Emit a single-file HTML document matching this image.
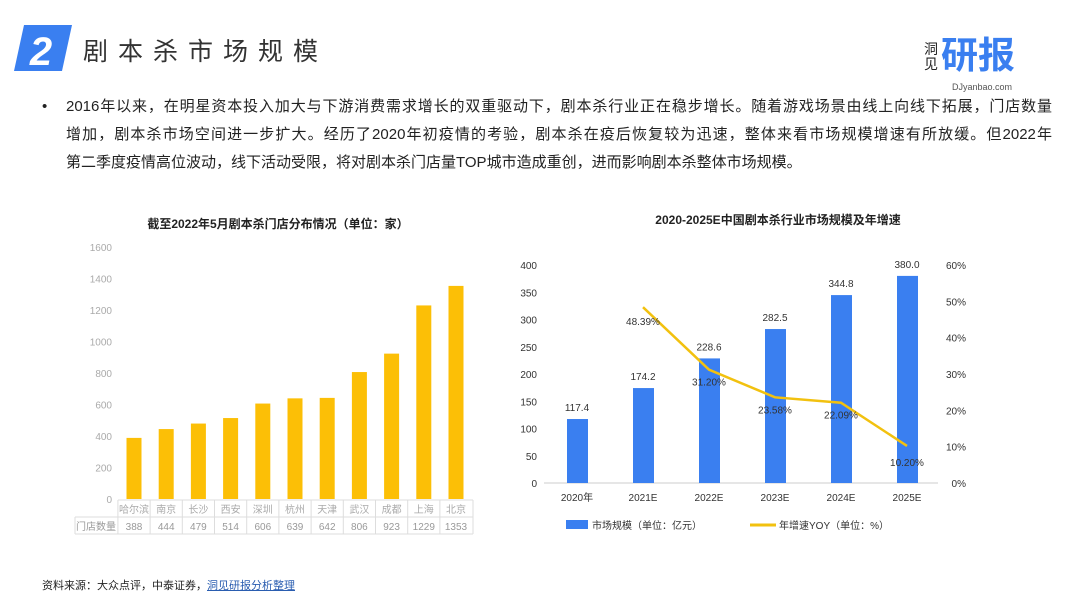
<!DOCTYPE html>
<html><head><meta charset="utf-8">
<style>
body{margin:0;width:1080px;height:608px;background:#fff;font-family:"Liberation Sans","Noto Sans CJK SC",sans-serif;position:relative;overflow:hidden;color:#222}
.abs{position:absolute}
.ln{text-align:justify;text-align-last:justify;white-space:nowrap;height:28px}
</style></head><body>
<div class="abs" style="left:14px;top:25px;width:52px;height:45px;">
<svg width="60" height="46"><polygon points="10,0 58,0 48,46 0,46" fill="#3a7ff0"/><text x="27" y="40" font-size="40" font-weight="bold" font-style="italic" fill="#fff" text-anchor="middle" font-family="Liberation Sans,sans-serif">2</text></svg></div>
<div class="abs" style="left:83px;top:32px;font-size:25px;letter-spacing:10px;color:#333">剧本杀市场规模</div>
<div class="abs" style="left:924px;top:36px;width:110px;height:56px">
<div class="abs" style="left:0;top:6px;font-size:14px;line-height:15px;width:14px;color:#222">洞见</div>
<div class="abs" style="left:17px;top:-2px;font-size:37px;font-weight:bold;color:#3a7ff0;line-height:44px">研报</div>
<div class="abs" style="left:28px;top:46px;font-size:9px;color:#555">DJyanbao.com</div></div>
<div class="abs" style="left:42px;top:93px;width:1010px;font-size:15px;line-height:28px;color:#222">
<span style="position:absolute;left:0">•</span>
<div style="margin-left:24px;width:986px">
<div class="ln">2016年以来，在明星资本投入加大与下游消费需求增长的双重驱动下，剧本杀行业正在稳步增长。随着游戏场景由线上向线下拓展，门店数量</div>
<div class="ln">增加，剧本杀市场空间进一步扩大。经历了2020年初疫情的考验，剧本杀在疫后恢复较为迅速，整体来看市场规模增速有所放缓。但2022年</div>
<div>第二季度疫情高位波动，线下活动受限，将对剧本杀门店量TOP城市造成重创，进而影响剧本杀整体市场规模。</div>
</div></div>
<div class="abs" style="left:42px;top:577px;font-size:11px;color:#222">资料来源：大众点评，中泰证券，<span style="color:#2a5db0;text-decoration:underline">洞见研报分析整理</span></div>

<svg class="abs" style="left:0;top:0" width="1080" height="608" id="charts"></svg>
<script>
const cities=["哈尔滨","南京","长沙","西安","深圳","杭州","天津","武汉","成都","上海","北京"];
const stores=[388,444,479,514,606,639,642,806,923,1229,1353];
const storeTicks=[0,200,400,600,800,1000,1200,1400,1600];
const years=["2020年","2021E","2022E","2023E","2024E","2025E"];
const market=[117.4,174.2,228.6,282.5,344.8,380.0];
const growth=[null,48.39,31.20,23.58,22.09,10.20];
const leftTicks=[0,50,100,150,200,250,300,350,400];
const rightTicks=[0,10,20,30,40,50,60];
const NS="http://www.w3.org/2000/svg";
const svg=document.getElementById('charts');
function mk(t,a,txt){const e=document.createElementNS(NS,t);for(const k in a)e.setAttribute(k,a[k]);if(txt!=null)e.textContent=txt;svg.appendChild(e);return e;}
const F='"Liberation Sans","Noto Sans CJK SC",sans-serif';
let e=mk('text',{x:278,y:228,'font-size':12,'font-weight':'bold','text-anchor':'middle','font-family':F,fill:'#222'},'截至2022年5月剧本杀门店分布情况（单位：家）');

const y1=v=>499-v/1600*252;
const cx1=i=>134+i*32.2;
storeTicks.forEach(t=>{const el=mk('text',{x:112,y:y1(t)+4,'font-size':10,'text-anchor':'end','font-family':F,fill:'#aaa'},t);
});
stores.forEach((v,i)=>{const r=mk('rect',{x:cx1(i)-7.5,y:y1(v),width:15,height:499-y1(v),fill:'#fcbf06'});
});
mk('line',{x1:118,y1:500,x2:473,y2:500,stroke:'#ddd'});
mk('line',{x1:75,y1:517,x2:473,y2:517,stroke:'#ddd'});
mk('line',{x1:75,y1:534,x2:473,y2:534,stroke:'#ddd'});
mk('line',{x1:75,y1:517,x2:75,y2:534,stroke:'#ddd'});
e=mk('text',{x:96,y:530,'font-size':10,'text-anchor':'middle','font-family':F,fill:'#999'},'门店数量');

cities.forEach((c,i)=>{const x=cx1(i);mk('line',{x1:x-16.1,y1:500,x2:x-16.1,y2:534,stroke:'#ddd'});
const a=mk('text',{x:x,y:513,'font-size':10,'text-anchor':'middle','font-family':F,fill:'#aaa'},c);

const b=mk('text',{x:x,y:530,'font-size':10,'text-anchor':'middle','font-family':F,fill:'#999'},stores[i]);
});
mk('line',{x1:473,y1:500,x2:473,y2:534,stroke:'#ddd'});
e=mk('text',{x:778,y:224,'font-size':12,'font-weight':'bold','text-anchor':'middle','font-family':F,fill:'#222'},'2020-2025E中国剧本杀行业市场规模及年增速');

const y2=v=>483-v/400*218;
const yr=v=>483-v/60*218;
const cx2=i=>577+i*66;
leftTicks.forEach(t=>{const el=mk('text',{x:537,y:y2(t)+4,'font-size':10,'text-anchor':'end','font-family':F,fill:'#333'},t);
});
rightTicks.forEach(t=>{const el=mk('text',{x:966,y:yr(t)+4,'font-size':10,'text-anchor':'end','font-family':F,fill:'#333'},t+'%');
});
mk('line',{x1:544,y1:483,x2:938,y2:483,stroke:'#ccc'});
market.forEach((v,i)=>{const r=mk('rect',{x:cx2(i)-10,y:y2(v),width:21,height:483-y2(v),fill:'#3a7ff0'});

const t=mk('text',{x:cx2(i),y:y2(v)-8,'font-size':10,'text-anchor':'middle','font-family':F,fill:'#333'},v.toFixed(1));

const x=mk('text',{x:cx2(i),y:501,'font-size':10,'text-anchor':'middle','font-family':F,fill:'#333'},years[i]);
});
let pts=[];growth.forEach((g,i)=>{if(g!=null)pts.push(cx2(i)+','+yr(g));});
e=mk('polyline',{points:pts.join(' '),fill:'none',stroke:'#f2c10f','stroke-width':2.5});

growth.forEach((g,i)=>{if(g==null)return;const t=mk('text',{x:cx2(i),y:yr(g)+(i==1?18:i==5?20:16),'font-size':10,'text-anchor':'middle','font-family':F,fill:'#333'},g.toFixed(2)+'%');
});
e=mk('rect',{x:566,y:520,width:22,height:9,fill:'#3a7ff0'});
e=mk('text',{x:592,y:529,'font-size':10,'font-family':F,fill:'#333'},'市场规模（单位：亿元）');
e=mk('line',{x1:750,y1:525,x2:776,y2:525,stroke:'#f2c10f','stroke-width':3});
e=mk('text',{x:779,y:529,'font-size':10,'font-family':F,fill:'#333'},'年增速YOY（单位：%）');
</script>
</body></html>
